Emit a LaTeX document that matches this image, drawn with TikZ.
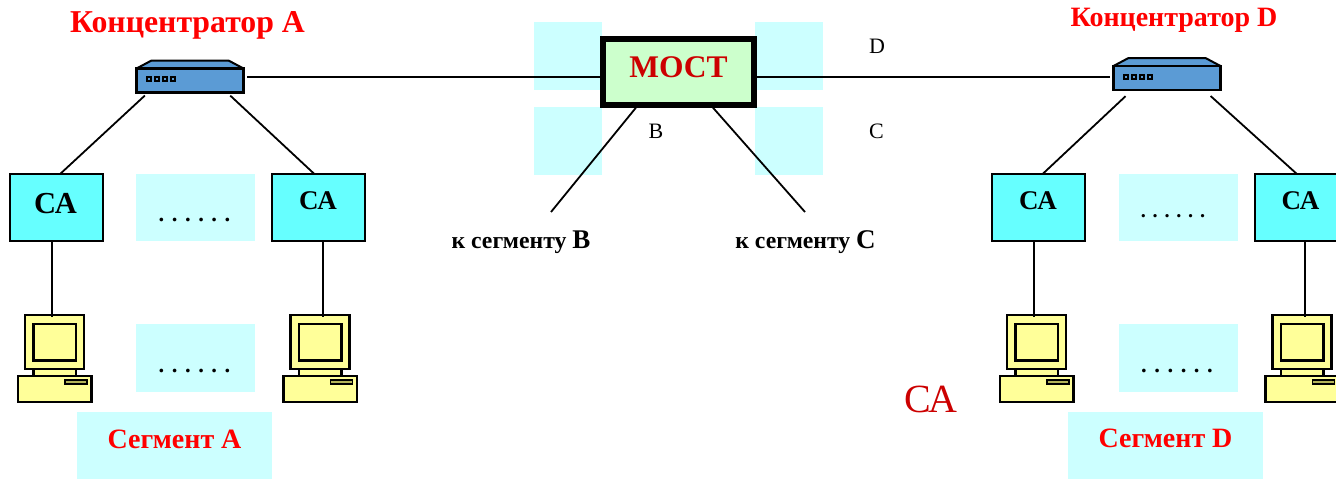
\documentclass[tikz,border=0pt]{standalone}
\usepackage{fontspec}
\setmainfont{Liberation Serif}
\definecolor{hubblue}{HTML}{5B9BD5}
\definecolor{caaqua}{HTML}{66FFFF}
\definecolor{paleaqua}{HTML}{CCFFFF}
\definecolor{pcyellow}{HTML}{FFFF99}
\definecolor{slotgrey}{HTML}{B4B45A}
\definecolor{bridgegreen}{HTML}{CCFFCC}
\definecolor{darkred}{HTML}{CC0000}
\newcommand{\fsz}[1]{\fontsize{#1}{#1}\selectfont}

\begin{document}
\begin{tikzpicture}[
    x=1pt, y=-1pt,
    wire/.style={draw=black, line width=1.8pt},
    pale_box/.style={fill=paleaqua, draw=none, inner sep=0pt, outer sep=0pt},
    ca_box/.style={rectangle, draw=black, fill=caaqua, line width=2pt, minimum width=93pt, minimum height=67pt, inner sep=0pt, outer sep=0pt},
    ca_text/.style={anchor=base, inner sep=0pt, font=\bfseries\fsz{27}},
    title_text/.style={anchor=base, inner sep=0pt, text=red, font=\bfseries\fsz{28}},
    port_text/.style={anchor=base, inner sep=0pt, font=\fsz{22}},
    seg_text/.style={anchor=base, inner sep=0pt, font=\bfseries\fsz{23.7}},
    dots_text/.style={anchor=base, inner sep=0pt, font=\bfseries\fsz{22.6}},
    hub/.pic={
        \filldraw[fill=hubblue, line width=2pt, line join=round] (0,8) -- (15,0) -- (92,0) -- (107,8) -- cycle;
        \node[rectangle, draw=black, fill=hubblue, line width=2.2pt, minimum width=107pt, minimum height=24pt, inner sep=0pt, outer sep=0pt] (-body) at (53.5,20) {};
        \foreach \px in {12,20,28,36}
            \filldraw[fill=hubblue, draw=black, line width=2pt] (\px-2,16.5) rectangle (\px+2,20.5);
    },
    pc/.pic={
        \filldraw[fill=pcyellow, line width=2.4pt] (8.5,50) rectangle (51,62);
        \filldraw[fill=pcyellow, line width=2.4pt] (0,0) rectangle (59,54);
        \filldraw[fill=pcyellow, line width=2.4pt] (8.5,9) rectangle (51,45.5);
        \filldraw[fill=pcyellow, line width=2.4pt] (-7,61) rectangle (66.5,87);
        \filldraw[fill=slotgrey, line width=1.8pt] (40,65) rectangle (62,69);
    }
]
    \useasboundingbox (0,0) rectangle (1336,479);
    \clip (0,0) rectangle (1336,479);

    \node[pale_box, minimum width=68pt, minimum height=68pt] (portAbg) at (568,56) {};
    \node[pale_box, minimum width=68pt, minimum height=68pt] (portBbg) at (568,141) {};
    \node[pale_box, minimum width=68pt, minimum height=68pt] (portDbg) at (789,56) {};
    \node[pale_box, minimum width=68pt, minimum height=68pt] (portCbg) at (789,141) {};
    \node[pale_box, minimum width=119pt, minimum height=67pt] (dotsA1) at (195.5,207.5) {};
    \node[pale_box, minimum width=119pt, minimum height=68pt] (dotsA2) at (195.5,358) {};
    \node[pale_box, minimum width=119pt, minimum height=67pt] (dotsD1) at (1178.5,207.5) {};
    \node[pale_box, minimum width=119pt, minimum height=68pt] (dotsD2) at (1178.5,358) {};
    \node[pale_box, minimum width=195pt, minimum height=67pt] (segAbg) at (174.5,445.5) {};
    \node[pale_box, minimum width=195pt, minimum height=67pt] (segDbg) at (1165.5,445.5) {};

    \pic (hubA) at (136.5,60.5) {hub};
    \pic (hubD) at (1113.5,58) {hub};
    \node[rectangle, draw=black, fill=bridgegreen, line width=5.5pt, minimum width=151pt, minimum height=66pt, inner sep=0pt] (bridge) at (678.5,72) {};

    \node[ca_box] (caA1) at (56,207.5) {};
    \node[ca_box] (caA2) at (318.5,207.5) {};
    \node[ca_box] (caD1) at (1038.5,207.5) {};
    \node[ca_box] (caD2) at (1301,207.5) {};

    \pic (pcA1) at (25,315) {pc};
    \pic (pcA2) at (290.5,315) {pc};
    \pic (pcD1) at (1007,315) {pc};
    \pic (pcD2) at (1272.5,315) {pc};

    \coordinate (linkA) at (247,77);
    \coordinate (linkD) at (1110,77);
    \coordinate (toB) at (551,212);
    \coordinate (toC) at (805,212);
    \coordinate (wireA1) at (52,317);
    \coordinate (wireA2) at (323,317);
    \coordinate (wireD1) at (1034,317);
    \coordinate (wireD2) at (1305,317);

    \draw[wire] (linkA) -- (bridge.west |- linkA);
    \draw[wire] (bridge.east |- linkD) -- (linkD);
    \draw[wire] (bridge.220) -- (toB);
    \draw[wire] (bridge.314) -- (toC);
    \draw[wire, shorten <=4.5pt] (hubA-body.196) -- (caA1.83);
    \draw[wire, shorten <=4.5pt] (hubA-body.342) -- (caA2.97);
    \draw[wire, shorten <=9pt] (hubD-body.199.7) -- (caD1.83);
    \draw[wire, shorten <=9pt] (hubD-body.342.6) -- (caD2.97);
    \draw[wire] (caA1.south -| wireA1) -- (wireA1);
    \draw[wire] (caA2.south -| wireA2) -- (wireA2);
    \draw[wire] (caD1.south -| wireD1) -- (wireD1);
    \draw[wire] (caD2.south -| wireD2) -- (wireD2);

    \node[title_text, font=\bfseries\fsz{31.8}] (titleA) at (187.5,32) {Концентратор A};
    \node[title_text] (titleD) at (1174,27) {Концентратор D};
    \node[anchor=base, inner sep=0pt, text=darkred, font=\bfseries\fsz{31.5}] (bridgetext) at (678.5,77) {МОСТ};
    \node[port_text] (portD) at (877,53) {D};
    \node[port_text] (portB) at (656,138) {B};
    \node[port_text] (portC) at (876.5,138) {C};
    \node[ca_text, font=\bfseries\fsz{30.5}] (caA1text) at (55.5,213) {СА};
    \node[ca_text] (caA2text) at (318,209) {СА};
    \node[ca_text] (caD1text) at (1038,209) {СА};
    \node[ca_text] (caD2text) at (1300.5,209) {СА};
    \node[dots_text] (dotsA1text) at (194.5,221) {. . . . . .};
    \node[dots_text] (dotsA2text) at (194.5,372) {. . . . . .};
    \node[dots_text, font=\bfseries\fsz{20.3}] (dotsD1text) at (1173,217.5) {. . . . . .};
    \node[dots_text] (dotsD2text) at (1177,372) {. . . . . .};
    \node[seg_text] (toBtext) at (521,248) {к сегменту {\fsz{27}B}};
    \node[seg_text] (toCtext) at (805.5,248) {к сегменту {\fsz{27}C}};
    \node[title_text] (segA) at (174.5,448) {Сегмент A};
    \node[title_text] (segD) at (1165.5,447) {Сегмент D};
    \node[anchor=base, inner sep=0pt, text=darkred, font=\fsz{40}] (caFree) at (931,412) {СА};
\end{tikzpicture}
\end{document}
